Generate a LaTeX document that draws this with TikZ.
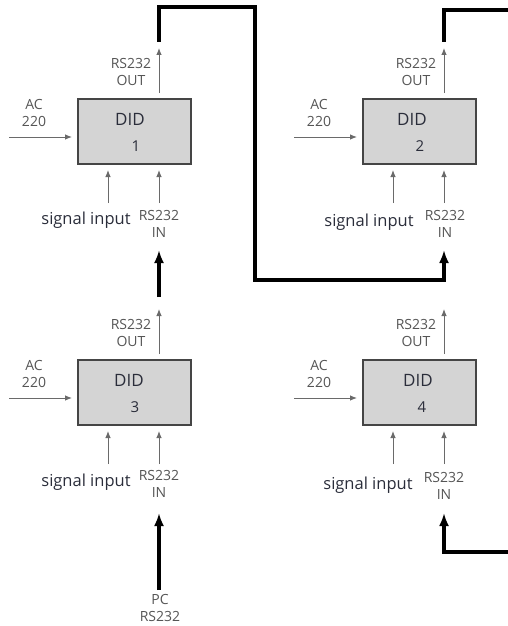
\documentclass[tikz,border=0pt]{standalone}
\usepackage{fontspec}
\setmainfont{Open Sans}
\usetikzlibrary{arrows.meta}
\definecolor{boxfill}{HTML}{D4D4D4}
\definecolor{boxedge}{HTML}{454545}
\definecolor{thincol}{HTML}{6A6A6A}
\definecolor{lblcol}{HTML}{555555}
\definecolor{didcol}{HTML}{2A2D3A}
\begin{document}
\begin{tikzpicture}[x=1pt,y=-1pt,
  didbox/.style={draw=boxedge,fill=boxfill,line width=1.6pt,minimum width=113pt,minimum height=65pt,inner sep=0pt},
  thinarr/.style={draw=thincol,line width=0.9pt,-{Latex[length=7pt,width=5.5pt]}},
  thickln/.style={line width=3.6pt,draw=black},
  thickarr/.style={thickln,-{Latex[length=13pt,width=10pt]}},
  smalllbl/.style={font=\fontsize{14}{17}\selectfont,text=lblcol,align=center,inner sep=0pt},
  didlbl/.style={font=\fontsize{17}{19}\selectfont,text=didcol,inner sep=0pt},
  numlbl/.style={font=\fontsize{15}{17}\selectfont,text=didcol,inner sep=0pt},
  siglbl/.style={font=\fontsize{16.5}{18}\selectfont,text=didcol,inner sep=0pt}
]
\useasboundingbox (0,0) rectangle (507,626);
\foreach \n/\l/\t/\dx/\nx in {1/78/99/52/58, 2/363/99/49/57, 3/78/360/51/57, 4/363/360/55/59}{
  \node[didbox] (b\n) at (\l+56.5,\t+32.5) {};
  \node[didlbl] (d\n) at (\l+\dx,\t+20.5) {DID};
  \node[numlbl] (n\n) at (\l+\nx,\t+47) {\n};
  % AC 220
  \node[smalllbl] (ac\n) at (\l-44,\t+14) {AC\\220};
  \coordinate (acs\n) at (\l-69,\t+38);
  \draw[thinarr] (acs\n) -- (\l-6,\t+38);
  % RS232 OUT
  \node[smalllbl] (out\n) at (\l+53,\t-27) {RS232\\OUT};
  \coordinate (oute\n) at (\l+81,\t-51);
  \draw[thinarr] (\l+81,\t-6) -- (oute\n);
  % signal input
  \coordinate (sigs\n) at (\l+30,\t+104);
  \draw[thinarr] (sigs\n) -- (\l+30,\t+71);
  \coordinate (ins\n) at (\l+81,\t+104);
  \draw[thinarr] (ins\n) -- (\l+81,\t+71);
}
\node[siglbl] (s1) at (86,220) {signal input};
\node[siglbl] (s2) at (369,222) {signal input};
\node[siglbl] (s3) at (86,482) {signal input};
\node[siglbl] (s4) at (368,485) {signal input};
\node[smalllbl] (in1) at (159,223.5) {RS232\\IN};
\node[smalllbl] (in2) at (445,224) {RS232\\IN};
\node[smalllbl] (in3) at (159,483.5) {RS232\\IN};
\node[smalllbl] (in4) at (444,486) {RS232\\IN};
\node[smalllbl] (pc) at (160,608) {PC\\RS232};
% thick connections
\coordinate (o1) at (159,42);
\coordinate (t2) at (444,250);
\draw[thickarr] (o1) -- (159,7) -- (255,7) -- (255,280) -- (444,280) -- (t2);
\coordinate (o2) at (444,42);
\coordinate (e2) at (512,10);
\draw[thickln] (o2) -- (444,10) -- (e2);
\coordinate (o3) at (159,297);
\coordinate (t1) at (159,250);
\draw[thickarr] (o3) -- (t1);
\coordinate (pcs) at (159,590);
\coordinate (t3) at (159,513);
\draw[thickarr] (pcs) -- (t3);
\coordinate (e4) at (512,552);
\coordinate (t4) at (444,513);
\draw[thickarr] (e4) -- (444,552) -- (t4);
\end{tikzpicture}
\end{document}
